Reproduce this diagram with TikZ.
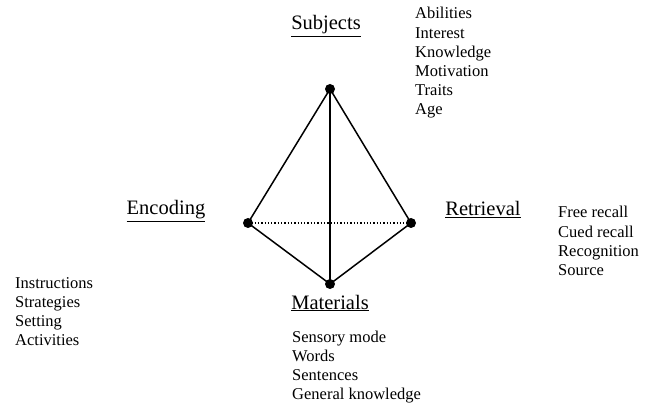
\documentclass[tikz,border=0pt]{standalone}
\usepackage{fontspec}
\setmainfont{Liberation Serif}
\newfontfamily\timesfont{Liberation Serif}
\newcommand{\headfont}{\timesfont\fontsize{20.5}{24}\selectfont}
\newcommand{\listfont}{\timesfont\fontsize{16.5}{19.2}\selectfont}
\newcommand{\itemlist}[1]{\begin{tabular}[t]{@{}l@{}}#1\end{tabular}}
\begin{document}
\begin{tikzpicture}[x=1pt,y=-1pt,
  vertex/.style={circle,fill=black,inner sep=0pt,minimum size=10pt},
  heading/.style={anchor=base,inner sep=0pt,font=\headfont},
  items/.style={anchor=base west,inner sep=0pt,font=\listfont},
  edge/.style={line width=1.5pt},
  hidden/.style={line width=1.3pt,dotted}]
\useasboundingbox (0,0) rectangle (652,411);
\node[vertex] (T) at (330,89) {};
\node[vertex] (L) at (248,223) {};
\node[vertex] (R) at (411,223) {};
\node[vertex] (B) at (330,284) {};
\draw[edge] (T.center) -- (L.center);
\draw[edge] (T.center) -- (R.center);
\draw[edge] (T.center) -- (B.center);
\draw[edge] (L.center) -- (B.center);
\draw[edge] (R.center) -- (B.center);
\draw[hidden] (L.center) -- (R.center);
\node[heading] (subj) at (326,30) {\underline{Subjects}};
\node[heading] (enc) at (166,215) {\underline{Encoding}};
\node[heading] (ret) at (483,216) {\underline{Retrieval}};
\node[heading] (mat) at (330,309) {\underline{Materials}};
\node[items] (subjlist) at (415,19) {\listfont\itemlist{Abilities\\Interest\\Knowledge\\Motivation\\Traits\\Age}};
\node[items] (retlist) at (558,218) {\listfont\itemlist{Free recall\\Cued recall\\Recognition\\Source}};
\node[items] (enclist) at (15,288) {\listfont\itemlist{Instructions\\Strategies\\Setting\\Activities}};
\node[items] (matlist) at (292,342) {\listfont\itemlist{Sensory mode\\Words\\Sentences\\General knowledge}};
\end{tikzpicture}
\end{document}
